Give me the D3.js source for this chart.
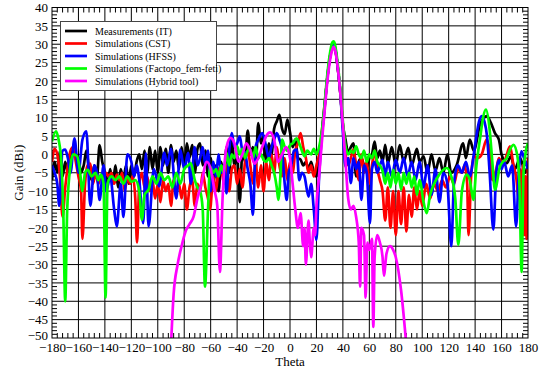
<!DOCTYPE html>
<html><head><meta charset="utf-8">
<script src="https://cdn.jsdelivr.net/npm/d3@7"></script>
<style>html,body{margin:0;padding:0;background:#fff;}svg{display:block;}</style>
</head><body>
<script>
const xTicks = d3.range(-180, 181, 20);
const yTicks = d3.range(-50, 41, 5);
const seriesNames = ["Measurements (IT)", "Simulations (CST)", "Simulations (HFSS)", "Simulations (Factopo_fem-feti)", "Simulations (Hybrid tool)"];

const measTheta = [-180,-178,-176,-174,-172,-170,-168,-166,-164,-162,-160,-158,-156,-154,-152,-150,-148,-146,-144,-142,-140,-138,-136,-134,-132,-130,-128,-126,-124,-122,-120,-118,-116,-114,-112,-110,-108,-106,-104,-102,-100,-98,-96,-94,-92,-90,-88,-86,-84,-82,-80,-78,-76,-74,-72,-70,-68,-66,-64,-62,-60,-58,-56,-54,-52,-50,-48,-46,-44,-42,-40,-38,-36,-34,-32,-30,-28,-26,-24,-22,-20,-18,-16,-14,-12,-10,-8,-6,-4,-2,0,2,4,6,8,10,12,14,16,18,20,22,24,26,28,30,32,33,34,36,38,40,42,44,46,48,50,52,54,56,58,60,62,64,66,68,70,72,74,77,80,83,86,89.5,92,96,98,101,104,107,110,113,116,119,122,126,131,133,136,139,144,149,152,155,158,160,164,167,170,174,178,180];
const measGain = [-7,-2,-5,1,-6,-2,-5,0,1.5,0,-1,-5,-3,1,-4,-7,-3,-6,2.5,-2,-5,-8,-4,-8,-3,-9,-4,-7,-3,-8,-3,-6,-2,0,-4,1,-5,2,-4,1,-5,2,-3,1.5,-5,2.5,-2,1,-4,2,-3,3,-1,2.5,-5,1.5,3,-3,1,-6,-1,-8,-3,-10,-2,-7,2,-5,4,-3,0,-13,1,-2,6.5,0,2,-4,8.5,3,5,-2,3,0,7,9,10.8,7,5.5,9.5,6,2,4,-1,-1.4,-3,-2,-4,-2,-5,-6,-2,5,12,20,26,29,29.5,29,24,17,8,4,0.4,2,3,-6,-2,-1,-3,-4,-1,0,3.5,-1,1,-2,2.6,-2.5,2,-3,2.5,-2,1.8,-3,1.5,-2,-0.5,-5,0,-4.5,-1,-5,0,-5,-3,3,-1,4,1,8.5,10.4,8.5,5.8,4,0,-2.4,-0.5,-4,-1,-5,-3];

const cstTheta = [-180,-178,-176,-174,-172,-170,-168,-166,-164,-162,-160,-158,-157,-155,-153,-151,-149,-147,-145,-143,-141,-139,-137,-135,-133,-131,-129,-127,-125,-123,-121,-119,-117,-115.7,-114,-112,-110,-108,-106,-104,-102,-100,-98,-96,-94,-92,-90,-88,-86,-84,-82,-80,-78,-76,-74,-72,-70,-68,-66,-64,-62,-60.5,-58,-56,-54,-52,-50,-48,-46,-44,-42,-40,-38,-36,-34,-32,-30,-28,-26,-24,-22,-20,-18,-16,-14,-12,-10,-8,-6,-4,-2,0,2,4,6,8,10,12,14,16,18,20,22,24,26,28,30,32,33,34,36,38,40,42,44,46,48,50,52,54,56,58,60,62,64,66,68,70,72,74,76,78,80,82,84,86,88,90,92,94,96,98,100,103,106,109,112,115,118,121,124,127,130,132,134,135,137,139,142,145,148.7,151,153,156,158,161,164,166.4,169,171,173,174,175,176,177,178,179,180];
const cstGain = [-2,1.5,0,-6,-17,-9,-3,1,2,-2,-6,-10,-23,-8,-3,-2.5,-8,-5,-8,-6,-7,-5,-6,-5,-8,-5.5,-7,-5,-10,-6,-8,-6,-12,-24,-8,-5,-9,-6,-10,-7,-12,-8,-13,-7,-10,-8,-14,-7,-10,-8,-12,-8,-15,-9,-7,-14,-8,-10,-5,-9,-12,-15,-6,-10,-4,-3.3,-8,-3,-10,-4,-3,-8,-4,-9,-2,1,-3,-8,-2,-9,-3,-10,-2,-7,0,-5,2,-3,-6,-1,-7,-2,-5,1,3,5.8,2,-1,-5,-3,-6,-3,0,6,13,20,26,29,29.5,29,24,17,8,0,-3,-1,1.3,-3,-7,0,-5,-2,-8,-3,1,-4,-7,-10,-18,-9,-20,-10,-22,-10,-19,-9,-21,-11,-17,-9,-15,-10,-14,-8,-12,-8,-10,-7,-9,-6,-8,-4,-5,-3,-8,-22,-6,-0.5,-1,0,4,1,-7,-4,-1,-3,0,2.2,-3,-6,-12,-4,-18,-3,-22,-6,-23,-1];

const hfssTheta = [-180,-178,-176,-174.5,-172,-170,-168,-166,-163,-160,-157,-154,-151,-148,-146,-144,-141,-139,-136,-133,-131,-128,-126,-123,-120,-118,-116,-114,-111,-109,-107,-103,-99,-95,-93,-90,-86,-83,-80,-77,-75,-72,-70,-68,-66,-64,-62,-60,-58,-56,-54,-52,-50,-48,-46,-44,-42,-40,-38,-36,-34,-32,-30,-28,-26,-24,-21,-18,-16,-14,-12,-10,-8,-6,-4,-2.5,-1,1,3,5,7,9,11,14,16,18,20,22,24,26,28,30,32,33,34,36,38,40,42,44,46,48,50,52,54,56,58,60.5,62,64,66,68,70,72,74,77,80,83,86,89,92,95,98,101,104,107,110,113,116,119,122,124,127,130,133,136,139,141,143,145,147,149,151,153.8,156,158,160,162,165,168,171,173,175,177,180];
const hfssGain = [-3,-5,-8,-14,1,1.3,-1,-5,4.4,-5,4,6.3,-14,-3,-5,-12.4,-3,-10,-6,-15,-19.6,-8,-17,0,-2,-6,-3,-7,-18.7,0.3,-19.6,-4,-8.7,0.5,-3,1.5,-12,1.3,-4,0.4,-8,2,-3,-1,2,-3,1,-10,-2,-6,0,-5,-3,-10.6,1,5.8,2,3,4.9,1,0.5,-4,-8,-16.5,2,4,5.8,2,-1,2,4,5.8,4,1,-8,-12.4,-5,-3,1,1.3,-7,-5,-6,-11.5,-8,-15,-23.3,-6,5,12.5,20,26,29.3,29.8,29.3,24,17,6,-3.3,-1,-7.8,-1,-4,-2,-12.4,-3,-5,-18.7,-4,-2,-5,-3,-1.5,-6,-2,-6,-1.5,-5,-1,-6,-2,-7,-2,-9,-3,-11,-4,-13,-5,-8,-25,-8,-3,-5,-2,-6,0,5,9,10.4,9,5,-5,-20.5,-5,-1.5,-4,-2,-6,-3,-19.6,-5,0.8,-1,-4];

const fetiTheta = [-180,-177,-175,-173,-171.5,-170,-168.5,-166,-164,-161,-159,-157,-155,-153,-150,-147,-145,-143,-141,-139.5,-138,-135,-132,-129,-126,-123,-120,-117,-114,-112,-110,-107,-104,-101,-98,-95,-92,-89,-86,-83,-80,-77,-75,-72,-70,-68,-66,-64.3,-62,-60.5,-58,-56,-54,-52,-50,-48,-46,-44,-42,-40,-38,-36,-34,-32,-30,-28,-26,-24,-22,-20,-18,-16,-14,-12,-10,-8.8,-7,-6,-4,-2,0,2,5,8,11,13,16,18,20,22,24,26,28,30,32,33,34,36,38,40,42,44,46,48,50,52,54,56,58,60,62,64,66,68,70,72,74,76,78,80,82,84,86,88,90,92,94,96,98,101,103.4,106,109,112,115,118.5,122,125,127.3,130,133.6,136,138.7,141,144,146,148.2,151,153,155,158.8,161,164,166,169,172,173.5,175.2,176.5,178,180];
const fetiGain = [3.5,6.3,4,-2,-15,-40,-15,-3,0,-0.5,-4,-10,-5,-4.2,-6,-5,-7,-5.5,-8,-39,-8,-6,-7,-6,-8,-6,-7.5,-7,-10,-17.8,-11,-9.6,-6,-8,-5,-7,-6,-9,-5,-8,-4,-3,-2.4,-7,-9,-10,-15,-36,-15,-3.3,-5,-4,-6,-3,-5,0.4,-3,0,-1,2.2,0,1.5,-1,1,1.3,-1,2,-1,0,-1.5,-2,-1,-3,-5,-9,-12.4,-4,4,2,1,2.5,3,4.4,2,-0.5,1,0,1.5,0,2,6,13,21,27,30.5,30.8,30,25,18,9,2.2,0,1,0.4,2.2,0,-1,1,-2,0,-1,1,-2,-3,-4.5,-8,-5,-9,-4.2,-8,-5,-9.6,-5,-8,-5,-9,-6,-11,-7,-13,-16,-11,-8,-6,-4.5,-3.7,-6,-12,-24.6,-10,-5.5,-7,-12.4,-3,5,10,12.2,6.7,-2,-9.6,-3.3,-2,-1,1,2.6,-0.5,-8,-32,-6,0,3.1];

const hybridTheta = [-90,-88,-85,-82,-79,-76,-73,-70,-67,-63,-60,-57,-55,-53,-51,-48,-45,-42,-39,-36,-33,-30,-27,-24,-21,-18,-15,-12,-9,-6,-3,0,2,4,6,8,10,11,12,14,15,16,18,19,20,22,24,26,28,30,32,33,34,36,38,40,42,44,46,48,50,52,53,54,56,57.2,58.5,60,62,63,64,66,68,70,71,73,75.6,78,80,84,88];
const hybridGain = [-52,-38,-30,-25,-21,-19,-17,-12,-8,-2,-4,-10,-14,-32,-12,2,4.5,3,-2,0,3,1,-2.5,-1,2,5,6,4,-2,0,2,-1,-8,-15,-20,-16,-25,-20,-30,-18,-24,-28,-20,-22,-14,-6,3,11,19,25,28.5,29.3,28.5,24,17,8,-2,-12,-15,-14,-17,-24,-36,-20,-22,-39,-24,-26,-23,-47,-28,-22,-24,-28,-33,-27,-25,-26,-28,-37,-52];

const colors = ["#000000", "#ff0000", "#0000ff", "#00ff00", "#ff00ff"];
const series = [
  {t: measTheta, g: measGain},
  {t: cstTheta, g: cstGain},
  {t: hfssTheta, g: hfssGain},
  {t: fetiTheta, g: fetiGain},
  {t: hybridTheta, g: hybridGain}
];

const W = 541, H = 369;
const L = 52, R = 528, T = 7.5, B = 338;
const svg = d3.select("body").append("svg").attr("width", W).attr("height", H);
const x = d3.scaleLinear().domain([-180, 180]).range([L, R]);
const y = d3.scaleLinear().domain([-50, 40]).range([B, T]);
const font = "'Liberation Serif','Times New Roman',serif";

svg.append("rect").attr("width", W).attr("height", H).attr("fill", "#fff");

// grid
const grid = svg.append("g").attr("stroke", "#000").attr("stroke-width", 1);
grid.selectAll(".vx").data(xTicks.slice(1, -1)).join("line")
  .attr("x1", d => x(d)).attr("x2", d => x(d)).attr("y1", T).attr("y2", B);
grid.selectAll(".hy").data(yTicks.slice(1, -1)).join("line")
  .attr("y1", d => y(d)).attr("y2", d => y(d)).attr("x1", L).attr("x2", R);

// minor ticks
const xMinor = d3.range(-180, 181, 4).filter(v => v % 20 !== 0);
const yMinor = d3.range(-50, 41, 1).filter(v => v % 5 !== 0);
const mt = svg.append("g").attr("stroke", "#000").attr("stroke-width", 1);
xMinor.forEach(v => {
  mt.append("line").attr("x1", x(v)).attr("x2", x(v)).attr("y1", B).attr("y2", B - 5);
  mt.append("line").attr("x1", x(v)).attr("x2", x(v)).attr("y1", T).attr("y2", T + 5);
});
yMinor.forEach(v => {
  mt.append("line").attr("y1", y(v)).attr("y2", y(v)).attr("x1", L).attr("x2", L + 5);
  mt.append("line").attr("y1", y(v)).attr("y2", y(v)).attr("x1", R).attr("x2", R - 5);
});

// series
const clip = svg.append("clipPath").attr("id", "clip").append("rect")
  .attr("x", L).attr("y", T).attr("width", R - L).attr("height", B - T);
const line = d3.line().x(d => x(d[0])).y(d => y(d[1])).curve(d3.curveMonotoneX);
const plot = svg.append("g").attr("clip-path", "url(#clip)");
series.forEach((s, i) => {
  const pts = s.t.map((t, k) => [t, s.g[k]]);
  plot.append("path").datum(pts).attr("d", line).attr("fill", "none")
    .attr("stroke", colors[i]).attr("stroke-width", 2.7).attr("stroke-linejoin", "round");
});

// frame
svg.append("rect").attr("x", L).attr("y", T).attr("width", R - L).attr("height", B - T)
  .attr("fill", "none").attr("stroke", "#000").attr("stroke-width", 1);

// axes labels
const xa = svg.append("g").attr("transform", `translate(0,${B})`)
  .call(d3.axisBottom(x).tickValues(xTicks).tickSize(0).tickPadding(4).tickFormat(d3.format("d")));
xa.select(".domain").remove();
xa.selectAll("text").attr("font-family", font).attr("font-size", 13).attr("fill", "#000").attr("dy", "0.78em");
const ya = svg.append("g").attr("transform", `translate(${L},0)`)
  .call(d3.axisLeft(y).tickValues(yTicks).tickSize(0).tickPadding(4).tickFormat(d3.format("d")));
ya.select(".domain").remove();
ya.selectAll("text").attr("font-family", font).attr("font-size", 13).attr("fill", "#000");
ya.selectAll("text").filter(d => d === -50).attr("dy", "0.15em");

svg.append("text").attr("x", (L + R) / 2).attr("y", 366.3).attr("text-anchor", "middle")
  .attr("font-family", font).attr("font-size", 13).text("Theta");
svg.append("text").attr("transform", `translate(23,${(T + B) / 2}) rotate(-90)`)
  .attr("text-anchor", "middle").attr("font-family", font).attr("font-size", 13).text("Gain (dBi)");

// legend
const lg = svg.append("g");
lg.append("rect").attr("x", 60.5).attr("y", 21.5).attr("width", 156).attr("height", 69)
  .attr("fill", "#fff").attr("stroke", "#444").attr("stroke-width", 1);
seriesNames.forEach((n, i) => {
  const yy = 31 + i * 12.5;
  lg.append("line").attr("x1", 65).attr("x2", 87).attr("y1", yy).attr("y2", yy)
    .attr("stroke", colors[i]).attr("stroke-width", 2.7);
  lg.append("text").attr("x", 95).attr("y", yy + 3.5).attr("font-family", font)
    .attr("font-size", 10).attr("fill", "#000").text(n);
});
</script>
</body></html>
